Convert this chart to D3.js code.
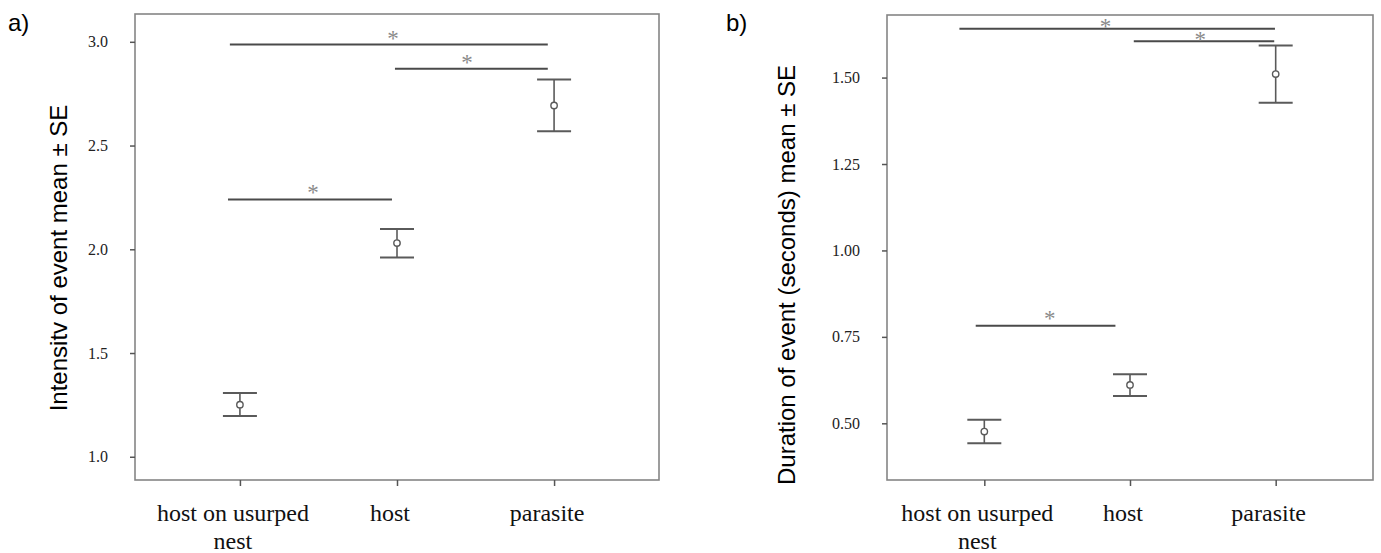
<!DOCTYPE html>
<html>
<head>
<meta charset="utf-8">
<script src="https://cdn.jsdelivr.net/npm/d3@7"></script>
<style>
  body { margin: 0; background: #fff; }
  svg { display: block; }
</style>
</head>
<body>
<script>
var width = 1381, height = 553;

// categories (x axis), wrapped the way the labels appear
const categories = ["host on usurped nest", "host", "parasite"];
const categoryLines = [["host on usurped", "nest"], ["host"], ["parasite"]];

// panel a) intensity of event, mean and +/- SE
const intensityMean = [1.251, 2.030, 2.693];
const intensityLow  = [1.196, 1.960, 2.569];
const intensityHigh = [1.307, 2.098, 2.818];
const intensityTicks = [1.0, 1.5, 2.0, 2.5, 3.0];
const intensityDomain = [0.888, 3.134];
// significance bars: from/to in category-index units, level in data units
const intensitySigFrom  = [-0.064, 0.987, -0.076];
const intensitySigTo    = [1.96, 1.96, 0.968];
const intensitySigLevel = [2.987, 2.870, 2.240];
const intensityStarAt   = [0.975, 1.446, 0.465];
const intensityStarLevel = [3.034, 2.918, 2.289];

// panel b) duration of event (seconds), mean and +/- SE
const durationMean = [0.476, 0.611, 1.510];
const durationLow  = [0.442, 0.579, 1.427];
const durationHigh = [0.510, 0.642, 1.593];
const durationTicks = [0.50, 0.75, 1.00, 1.25, 1.50];
const durationDomain = [0.336, 1.681];
const durationSigFrom  = [-0.171, 1.026, -0.059];
const durationSigTo    = [1.995, 1.99, 0.90];
const durationSigLevel = [1.641, 1.605, 0.782];
const durationStarAt   = [0.832, 1.482, 0.449];
const durationStarLevel = [1.659, 1.619, 0.813];

var svg = d3.select("body").append("svg")
  .attr("width", width)
  .attr("height", height);

function panel(opt) {
  var g = svg.append("g");

  var xscale = d3.scalePoint().domain(categories)
    .range([opt.left, opt.right]).padding(0.668);
  var step = xscale.step();
  var x0 = xscale(categories[0]);
  var xi = function (i) { return x0 + i * step; };

  var yscale = d3.scaleLinear().domain(opt.domain).range([opt.bottom, opt.top]);

  // frame
  g.append("rect")
    .attr("x", opt.left).attr("y", opt.top)
    .attr("width", opt.right - opt.left).attr("height", opt.bottom - opt.top)
    .attr("fill", "none").attr("stroke", "#858585").attr("stroke-width", 1.6);

  // y axis
  var yAxis = d3.axisLeft(yscale)
    .tickValues(opt.ticks)
    .tickFormat(d3.format(opt.fmt))
    .tickSize(5)
    .tickPadding(22);
  var ya = g.append("g").attr("transform", "translate(" + opt.left + ",0)").call(yAxis);
  ya.select(".domain").remove();
  ya.selectAll("line").attr("stroke", "#555").attr("stroke-width", 1.5);
  ya.selectAll("text")
    .attr("font-family", "Liberation Serif, Times New Roman, serif")
    .attr("font-size", 16).attr("fill", "#222");

  // x axis
  var xAxis = d3.axisBottom(xscale).tickSize(6).tickFormat("");
  var xa = g.append("g").attr("transform", "translate(0," + opt.bottom + ")").call(xAxis);
  xa.select(".domain").remove();
  xa.selectAll("line").attr("stroke", "#555").attr("stroke-width", 1.5);

  var lab = g.selectAll("text.xlab").data(categories).enter().append("text")
    .attr("class", "xlab")
    .attr("font-family", "Liberation Serif, Times New Roman, serif")
    .attr("font-size", 24).attr("fill", "#111")
    .attr("text-anchor", "middle");
  lab.selectAll("tspan").data(function (d, i) {
      return categoryLines[i].map(function (t) { return { t: t, x: xscale(d) - 7 }; });
    })
    .enter().append("tspan")
    .attr("x", function (d) { return d.x; })
    .attr("y", function (d, j) { return opt.bottom + 41 + j * 28; })
    .text(function (d) { return d.t; });

  // y title
  g.append("text")
    .attr("transform", "translate(" + opt.titleX + "," + opt.titleY + ") rotate(-90)")
    .attr("text-anchor", "middle")
    .attr("font-family", "Liberation Sans, Arial, sans-serif")
    .attr("font-size", 24).attr("fill", "#000")
    .text(opt.title);

  // panel letter
  g.append("text")
    .attr("x", opt.letterX).attr("y", 31)
    .attr("font-family", "Liberation Sans, Arial, sans-serif")
    .attr("font-size", 24).attr("fill", "#000")
    .text(opt.letter);

  // significance bars
  var sig = opt.sigFrom.map(function (f, i) {
    return { from: f, to: opt.sigTo[i], level: opt.sigLevel[i], star: opt.starAt[i], starLevel: opt.starLevel[i] };
  });
  g.selectAll("line.sig").data(sig).enter().append("line")
    .attr("class", "sig")
    .attr("x1", function (d) { return xi(d.from); })
    .attr("x2", function (d) { return xi(d.to); })
    .attr("y1", function (d) { return yscale(d.level); })
    .attr("y2", function (d) { return yscale(d.level); })
    .attr("stroke", "#4a4a4a").attr("stroke-width", 2);
  g.selectAll("text.star").data(sig).enter().append("text")
    .attr("class", "star")
    .attr("x", function (d) { return xi(d.star); })
    .attr("y", function (d) { return yscale(d.starLevel) + 11; })
    .attr("text-anchor", "middle")
    .attr("font-family", "Liberation Serif, Times New Roman, serif")
    .attr("font-size", 23).attr("fill", "#8a8a8a")
    .text("*");

  // error bars
  var pts = categories.map(function (c, i) {
    return { c: c, m: opt.mean[i], lo: opt.low[i], hi: opt.high[i] };
  });
  var eb = g.selectAll("g.eb").data(pts).enter().append("g").attr("class", "eb");
  eb.append("line")
    .attr("x1", function (d) { return xscale(d.c); })
    .attr("x2", function (d) { return xscale(d.c); })
    .attr("y1", function (d) { return yscale(d.lo); })
    .attr("y2", function (d) { return yscale(d.hi); })
    .attr("stroke", "#5a5a5a").attr("stroke-width", 1.6);
  ["lo", "hi"].forEach(function (k) {
    eb.append("line")
      .attr("x1", function (d) { return xscale(d.c) - 17; })
      .attr("x2", function (d) { return xscale(d.c) + 17; })
      .attr("y1", function (d) { return yscale(d[k]); })
      .attr("y2", function (d) { return yscale(d[k]); })
      .attr("stroke", "#5a5a5a").attr("stroke-width", 2);
  });
  eb.append("circle")
    .attr("cx", function (d) { return xscale(d.c); })
    .attr("cy", function (d) { return yscale(d.m); })
    .attr("r", 3.2)
    .attr("fill", "#fff").attr("stroke", "#5a5a5a").attr("stroke-width", 1.4);
}

panel({
  left: 135, right: 659, top: 14, bottom: 480,
  domain: intensityDomain, ticks: intensityTicks, fmt: ".1f",
  mean: intensityMean, low: intensityLow, high: intensityHigh,
  sigFrom: intensitySigFrom, sigTo: intensitySigTo, sigLevel: intensitySigLevel,
  starAt: intensityStarAt, starLevel: intensityStarLevel,
  title: "Intensitv of event mean \u00b1 SE", titleX: 67, titleY: 258,
  letter: "a)", letterX: 8
});

panel({
  left: 887, right: 1373, top: 15, bottom: 480,
  domain: durationDomain, ticks: durationTicks, fmt: ".2f",
  mean: durationMean, low: durationLow, high: durationHigh,
  sigFrom: durationSigFrom, sigTo: durationSigTo, sigLevel: durationSigLevel,
  starAt: durationStarAt, starLevel: durationStarLevel,
  title: "Duration of event (seconds) mean \u00b1 SE", titleX: 795, titleY: 275,
  letter: "b)", letterX: 726
});
</script>
</body>
</html>
